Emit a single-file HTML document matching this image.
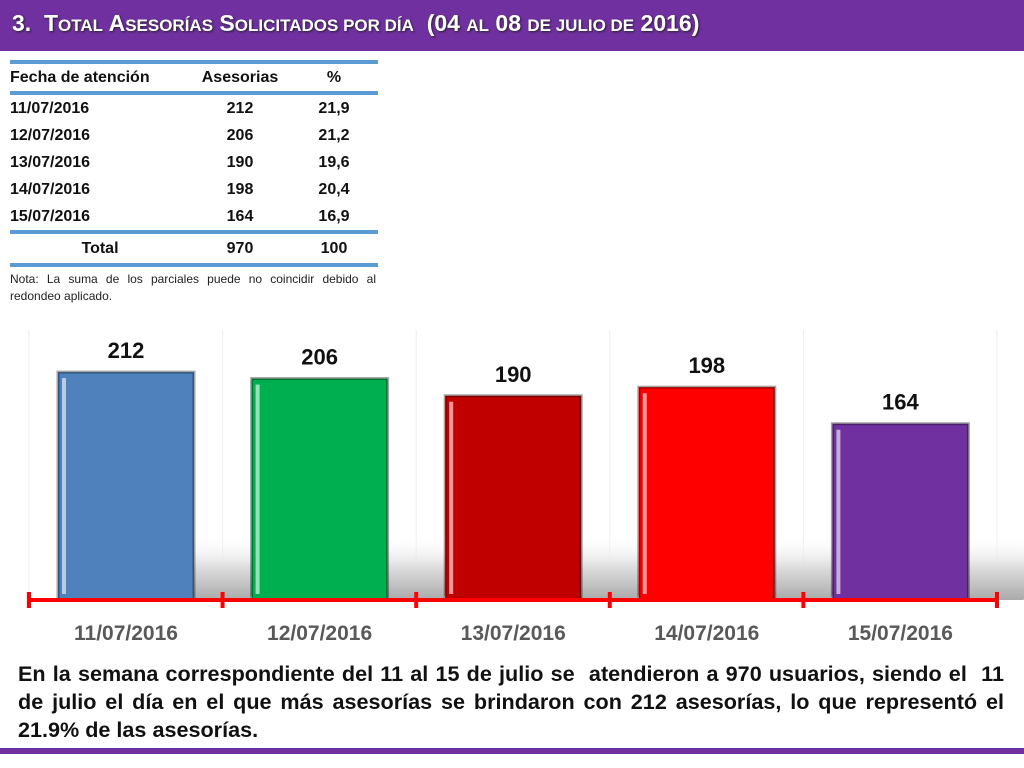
<!DOCTYPE html>
<html><head><meta charset="utf-8"><style>
body{margin:0;width:1024px;height:768px;background:#fff;position:relative;overflow:hidden;font-family:"Liberation Sans",sans-serif}
.title{position:absolute;left:0;top:0;width:1024px;height:51px;background:#7030a0;color:#fff;font-weight:bold;font-size:23px;line-height:46px;padding-left:12px;box-sizing:border-box;text-shadow:1px 1px 2px #222}
.sc{font-size:17px}
table{position:absolute;left:10px;top:60px;width:368px;border-collapse:collapse;font-weight:bold;font-size:16px;color:#111}
td{height:27px;padding:0}
.note{position:absolute;left:10px;top:271px;width:366px;font-size:12px;color:#222;text-align:justify;line-height:17px}
.para{position:absolute;left:18px;top:660px;width:986px;font-size:21.6px;font-weight:bold;color:#111;text-align:justify;line-height:28px}
.bottom{position:absolute;left:0;top:748px;width:1024px;height:6px;background:#7030a0}
</style></head><body>
<div class="title">3. &nbsp;T<span class="sc">OTAL</span> A<span class="sc">SESORÍAS</span> S<span class="sc">OLICITADOS POR DÍA</span> &nbsp;(04 <span class="sc">AL</span> 08 <span class="sc">DE JULIO DE</span> 2016)</div>
<table>
<tr style="border-top:4px solid #5b9bd5;border-bottom:4px solid #5b9bd5"><td style="width:180px">Fecha de atención</td><td style="text-align:center;width:100px">Asesorias</td><td style="text-align:center">%</td></tr>
<tr><td>11/07/2016</td><td style="text-align:center">212</td><td style="text-align:center">21,9</td></tr>
<tr><td>12/07/2016</td><td style="text-align:center">206</td><td style="text-align:center">21,2</td></tr>
<tr><td>13/07/2016</td><td style="text-align:center">190</td><td style="text-align:center">19,6</td></tr>
<tr><td>14/07/2016</td><td style="text-align:center">198</td><td style="text-align:center">20,4</td></tr>
<tr style="border-bottom:4px solid #5b9bd5"><td>15/07/2016</td><td style="text-align:center">164</td><td style="text-align:center">16,9</td></tr>
<tr style="border-bottom:4px solid #5b9bd5"><td style="text-align:center;height:29px">Total</td><td style="text-align:center">970</td><td style="text-align:center">100</td></tr>
</table>
<div class="note">Nota: La suma de los parciales puede no coincidir debido al redondeo aplicado.</div>
<svg id="chart" width="1024" height="660" style="position:absolute;left:0;top:0">
<defs>
<linearGradient id="sh" x1="0" y1="0" x2="0" y2="1"><stop offset="0" stop-color="#fff" stop-opacity="0"/><stop offset="0.5" stop-color="#ddd"/><stop offset="1" stop-color="#aaa"/></linearGradient>
</defs>
<g id="grid"></g><g id="bars"></g><g id="axis"></g>
</svg>
<div class="para">En la semana correspondiente del 11 al 15 de julio se &nbsp;atendieron a 970 usuarios, siendo el &nbsp;11 de julio el día en el que más asesorías se brindaron con 212 asesorías, lo que representó el 21.9% de las asesorías.</div>
<div class="bottom"></div>
<script>
const categories=["11/07/2016","12/07/2016","13/07/2016","14/07/2016","15/07/2016"];
const values=[212,206,190,198,164];
const colors=["#4f81bd","#00b050","#c00000","#ff0000","#7030a0"];
const NS="http://www.w3.org/2000/svg";
const x0=29,x1=997,base=600,k=1.075;
const cw=(x1-x0)/categories.length;
const xs=i=>x0+cw*i;
const ys=v=>base-v*k;
function mk(t,a,p){const e=document.createElementNS(NS,t);for(const n in a)e.setAttribute(n,a[n]);p.appendChild(e);return e;}
const g=document.getElementById('grid'),b=document.getElementById('bars'),ax=document.getElementById('axis');
for(let i=0;i<=categories.length;i++){const l=mk('line',{x1:xs(i),x2:xs(i),y1:330,y2:base,stroke:'#eee'},g);

}
categories.forEach((c,i)=>{
 const bx=xs(i)+29,bw=136,top=ys(values[i]);
 const s=mk('polygon',{points:`${bx+bw},${base} ${bx+bw},${base-65} ${bx+bw+90},${base-65} ${bx+bw+55},${base}`,fill:'url(#sh)'},b);
 
 
 const r=mk('rect',{x:bx,y:top,width:bw,height:base-top,fill:colors[i],stroke:'rgba(0,0,0,0.35)','stroke-width':3},b);
 
 
 const h=mk('rect',{x:bx+4,y:top+6,width:4,height:base-top-12,fill:'rgba(255,255,255,0.6)'},b);
 
 
 const t=mk('text',{x:bx+bw/2,y:top-14,'text-anchor':'middle','font-size':22,'font-weight':'bold',fill:'#111'},b);
 t.textContent=values[i];
 
 
 const tl=mk('text',{x:bx+bw/2,y:640,'text-anchor':'middle','font-size':21,'font-weight':'bold',fill:'#595959'},ax);
 tl.textContent=c;
 
 
});
const al=mk('line',{x1:x0,x2:x1,y1:base,y2:base,stroke:'#f00','stroke-width':4},ax);


for(let i=0;i<=categories.length;i++){const t=mk('line',{x1:xs(i),x2:xs(i),y1:base-8,y2:base+8,stroke:'#f00','stroke-width':4},ax);

}
</script>
</body></html>
